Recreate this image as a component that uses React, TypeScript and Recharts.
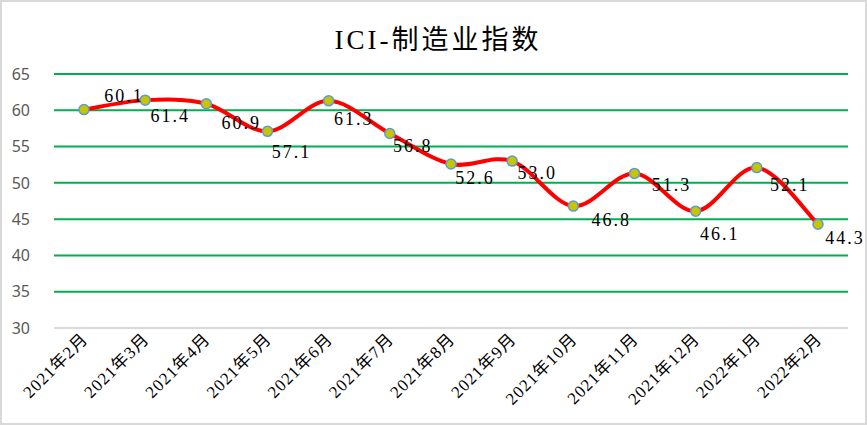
import { LineChart, Line, XAxis, YAxis, CartesianGrid, LabelList } from "recharts"

const months = [
  "2021年2月", "2021年3月", "2021年4月", "2021年5月", "2021年6月", "2021年7月", "2021年8月",
  "2021年9月", "2021年10月", "2021年11月", "2021年12月", "2022年1月", "2022年2月",
]
const iciValues = [60.1, 61.4, 60.9, 57.1, 61.3, 56.8, 52.6, 53.0, 46.8, 51.3, 46.1, 52.1, 44.3]
const yTicks = [30, 35, 40, 45, 50, 55, 60, 65]

// label nudges (dx, dy) so labels sit roughly where the original put them
const labelShift = [
  [40, -14], [25, 16], [35, 19], [24, 21], [25, 18], [23, 12], [24, 14],
  [25, 12], [38, 14], [37, 12], [24, 23], [33, 17], [27, 14],
]

const data = months.map((m, i) => ({ month: m, ici: iciValues[i] }))

// Excel-style smoothing (Catmull-Rom as bezier)
function excelSmooth(context: any) {
  let pts: number[][] = []
  return {
    areaStart() {},
    areaEnd() {},
    lineStart() {
      pts = []
    },
    point(x: number, y: number) {
      pts.push([+x, +y])
    },
    lineEnd() {
      if (!pts.length) return
      context.moveTo(pts[0][0], pts[0][1])
      for (let i = 0; i < pts.length - 1; i++) {
        const p0 = pts[Math.max(i - 1, 0)]
        const p1 = pts[i]
        const p2 = pts[i + 1]
        const p3 = pts[Math.min(i + 2, pts.length - 1)]
        context.bezierCurveTo(
          p1[0] + (p2[0] - p0[0]) / 6,
          p1[1] + (p2[1] - p0[1]) / 6,
          p2[0] - (p3[0] - p1[0]) / 6,
          p2[1] - (p3[1] - p1[1]) / 6,
          p2[0],
          p2[1]
        )
      }
    },
  }
}

const XTick = ({ x, y, payload }: any) => (
  <text
    x={x + 5}
    y={y}
    transform={`rotate(-45 ${x + 5} ${y})`}
    textAnchor="end"
    fontSize={17}
    letterSpacing={1}
    fill="#000"
    fontFamily='"Liberation Serif", "Noto Sans CJK SC", serif'
  >
    {payload.value}
  </text>
)

const ValueLabel = ({ x, y, value, index }: any) => {
  const [dx, dy] = labelShift[index] || [20, 15]
  return (
    <text
      x={x + dx}
      y={y + dy}
      textAnchor="middle"
      dominantBaseline="central"
      fontSize={18}
      letterSpacing={2}
      fill="#000"
      fontFamily='"Liberation Serif", serif'
    >
      {Number(value).toFixed(1)}
    </text>
  )
}

export default function App() {
  return (
    <div style={{ position: "absolute", left: 0, top: 0, width: 867, height: 425, boxSizing: "border-box", border: "2px solid #d9d9d9", background: "#fff" }}>
      <div style={{ position: "absolute", left: 0, top: 0 }}>
        <LineChart width={867} height={425} data={data} margin={{ top: 72, right: 21, bottom: 0, left: 0 }}>
          <text
            x={436}
            y={38}
            textAnchor="middle"
            dominantBaseline="central"
            fontSize={27}
            letterSpacing={3}
            fill="#000"
            fontFamily='"Liberation Serif", "Noto Sans CJK SC", serif'
          >
            ICI-制造业指数
          </text>
          <CartesianGrid vertical={false} stroke="#00b050" strokeWidth={2} />
          <XAxis
            dataKey="month"
            height={99}
            interval={0}
            padding={{ left: 30, right: 30 }}
            tickLine={false}
            axisLine={{ stroke: "#d9d9d9", strokeWidth: 2 }}
            tick={<XTick />}
            tickSize={0}
            tickMargin={12}
          />
          <YAxis
            domain={[30, 65]}
            ticks={yTicks}
            width={52}
            axisLine={false}
            tickLine={false}
            tickSize={0}
            tickMargin={24}
            tick={{ fontSize: 16, fill: "#595959", fontFamily: '"Noto Sans", sans-serif' }}
          />
          <Line
            dataKey="ici"
            type={excelSmooth as any}
            stroke="#ff0000"
            strokeWidth={4}
            dot={{ r: 5, fill: "#c8c400", stroke: "#5b9bd5", strokeWidth: 1.5 }}
            isAnimationActive={false}
          >
            <LabelList dataKey="ici" content={<ValueLabel />} />
          </Line>
        </LineChart>
      </div>
    </div>
  )
}
